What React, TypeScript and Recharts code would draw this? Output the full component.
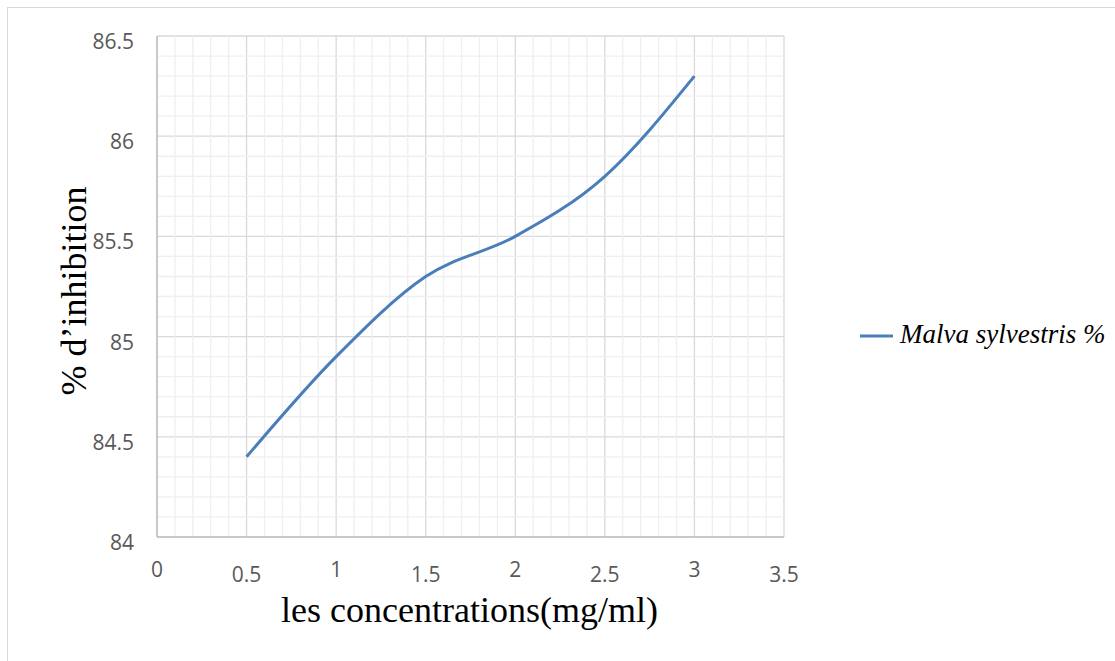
import React from 'react';
import { LineChart, Line, XAxis, YAxis, CartesianGrid, ReferenceLine } from 'recharts';

const concentrations = [0.5, 1, 1.5, 2, 2.5, 3];
const inhibition = [84.4, 84.9, 85.3, 85.5, 85.8, 86.3];
const xTicks = [0, 0.5, 1, 1.5, 2, 2.5, 3, 3.5];
const yTicks = [84, 84.5, 85, 85.5, 86, 86.5];
const seriesName = 'Malva sylvestris %';
const xTitle = 'les concentrations(mg/ml)';
const yTitle = '% d’inhibition';

const data = concentrations.map((c, i) => ({ x: c, y: inhibition[i] }));

// minor gridline positions (every 0.1, skipping major ticks)
const minorX: number[] = [];
for (let i = 1; i < 35; i++) if (i % 5 !== 0) minorX.push(i / 10);
const minorY: number[] = [];
for (let i = 1; i < 25; i++) if (i % 5 !== 0) minorY.push(84 + i / 10);

const TICK_FONT = '"Open Sans", sans-serif';
const SERIF = '"Liberation Serif", "Times New Roman", serif';

const XTick = (props: any) => {
  const { x, y, payload } = props;
  const v = payload.value as number;
  const half = Math.round(v * 2) % 2 === 1;
  return (
    <text x={x} y={y + (half ? 45 : 40)} textAnchor="middle" fill="#595959" fontSize={21} fontFamily={TICK_FONT}>
      {String(v)}
    </text>
  );
};

const YTick = (props: any) => {
  const { x, y, payload } = props;
  return (
    <text x={x} y={y + 13} textAnchor="end" fill="#595959" fontSize={21} fontFamily={TICK_FONT}>
      {String(payload.value)}
    </text>
  );
};

export default function App() {
  return (
    <div style={{ position: 'absolute', left: 0, top: 0, width: 1115, height: 661, background: '#fff', overflow: 'hidden' }}>
      <div style={{ position: 'absolute', left: 7, top: 7, width: 1200, height: 800, border: '1px solid #d9d9d9', boxSizing: 'border-box' }} />
      <div style={{ position: 'absolute', left: 0, top: 0 }}>
        <LineChart width={1115} height={661} data={data} margin={{ top: 36, right: 331, bottom: 84, left: 97 }}>
          <CartesianGrid stroke="#d9d9d9" strokeWidth={1.3} />
          {minorX.map((v) => (
            <ReferenceLine key={'mx' + v} x={v} stroke="#efefef" strokeWidth={1.3} ifOverflow="hidden" />
          ))}
          {minorY.map((v) => (
            <ReferenceLine key={'my' + v} y={v} stroke="#efefef" strokeWidth={1.3} ifOverflow="hidden" />
          ))}
          <XAxis
            type="number"
            dataKey="x"
            domain={[0, 3.5]}
            ticks={xTicks}
            interval={0}
            height={40}
            tickSize={0}
            tickMargin={0}
            tickLine={false}
            axisLine={{ stroke: '#bfbfbf', strokeWidth: 1.5 }}
            tick={<XTick />}
          />
          <YAxis
            type="number"
            domain={[84, 86.5]}
            ticks={yTicks}
            interval={0}
            width={60}
            tickSize={0}
            tickMargin={23}
            tickLine={false}
            axisLine={{ stroke: '#bfbfbf', strokeWidth: 1.5 }}
            tick={<YTick />}
          />
          <Line
            type="monotone"
            dataKey="y"
            name={seriesName}
            stroke="#4a7ebb"
            strokeWidth={3}
            dot={false}
            isAnimationActive={false}
          />
        </LineChart>
      </div>
      <svg width={1115} height={661} style={{ position: 'absolute', left: 0, top: 0, pointerEvents: 'none' }}>
        <text x={86} y={291} transform="rotate(-90 86 291)" textAnchor="middle" fontSize={36} fontFamily={SERIF} fill="#000">
          {yTitle}
        </text>
        <text x={469.5} y={622} textAnchor="middle" fontSize={36} fontFamily={SERIF} fill="#000">
          {xTitle}
        </text>
        <line x1={860} y1={336} x2={893} y2={336} stroke="#4a7ebb" strokeWidth={3} />
        <text x={900} y={343} fontSize={27} fontStyle="italic" fontFamily={SERIF} fill="#000">
          {seriesName}
        </text>
      </svg>
    </div>
  );
}
